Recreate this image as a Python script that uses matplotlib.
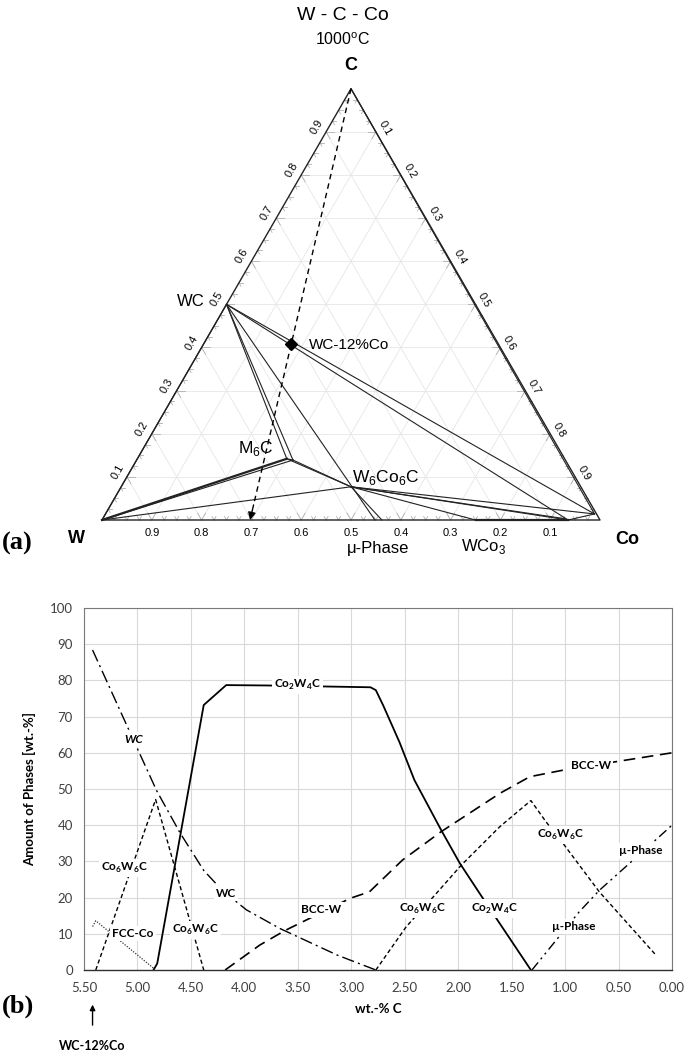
import numpy as np
import matplotlib
matplotlib.use('Agg')
import matplotlib.pyplot as plt

plt.rcParams['font.family'] = ['Lato', 'DejaVu Sans']
plt.rcParams['mathtext.fontset'] = 'custom'
plt.rcParams['mathtext.rm'] = 'Lato'
plt.rcParams['mathtext.bf'] = 'Lato:bold'
plt.rcParams['mathtext.sf'] = 'Liberation Sans'

# ── (a) ternary section, atomic fractions (C, Co); W = 1 - C - Co ──────────────
pt_names = ['W', 'Co', 'C', 'WC', 'M6C_a', 'M6C_b', 'W6Co6C', 'mu_a', 'mu_b',
            'WCo3', 'fcc_a', 'fcc_b', 'fcc_c', 'alloy']
pt_c  = [0.0, 0.0, 1.0, 0.5, 0.142, 0.139, 0.077, 0.0, 0.0,
         0.0, 0.0, 0.003, 0.014, 0.408]
pt_co = [0.0, 1.0, 0.0, 0.0, 0.300, 0.314, 0.4615, 0.548, 0.562,
         0.750, 0.936, 0.928, 0.982, 0.176]

tie_lines = [('W', 'WC'), ('WC', 'M6C_a'), ('WC', 'M6C_b'), ('M6C_a', 'M6C_b'),
             ('WC', 'mu_a'), ('W6Co6C', 'mu_b'), ('WC', 'fcc_a'), ('WC', 'fcc_c'),
             ('W', 'M6C_b'), ('W', 'W6Co6C'), ('M6C_a', 'W6Co6C'), ('M6C_b', 'W6Co6C'),
             ('W6Co6C', 'WCo3'), ('W6Co6C', 'fcc_a'), ('W6Co6C', 'fcc_b'),
             ('W6Co6C', 'fcc_c'), ('C', 'fcc_c'), ('fcc_a', 'fcc_c')]
thick_lines = [('W', 'M6C_a'), ('WCo3', 'fcc_a')]

tern_ticks = [0.1, 0.2, 0.3, 0.4, 0.5, 0.6, 0.7, 0.8, 0.9]

# ── (b) phase amounts vs wt.-% C ───────────────────────────────────────────────
co2w4c_x = [4.85, 4.815, 4.38, 4.17, 3.79, 2.82, 2.77, 2.70, 2.55, 2.41, 2.16, 1.985, 1.78, 1.32]
co2w4c_y = [0.0, 1.8, 73.2, 78.7, 78.6, 78.1, 77.3, 73.0, 63.0, 52.5, 38.7, 29.5, 20.3, 0.0]

wc_x = [5.42, 5.04, 4.82, 4.60, 4.38, 4.20, 3.98, 3.67, 3.13, 2.77]
wc_y = [88.4, 63.7, 49.5, 37.8, 27.5, 21.8, 16.6, 11.5, 4.1, 0.0]

bccw_x = [4.18, 3.855, 3.62, 3.01, 2.83, 2.52, 2.16, 1.61, 1.33, 1.02, 0.47, 0.0]
bccw_y = [0.0, 6.9, 10.9, 19.8, 21.6, 30.4, 38.2, 48.8, 53.4, 55.2, 57.8, 60.0]

co6w6c1_x = [5.39, 4.83, 4.38]
co6w6c1_y = [0.0, 47.1, 0.0]

co6w6c2_x = [2.77, 2.485, 2.23, 1.97, 1.61, 1.32, 1.18, 1.02, 0.68, 0.15]
co6w6c2_y = [0.0, 12.0, 20.3, 29.0, 39.6, 46.8, 41.0, 35.0, 21.6, 4.1]

fcc_x = [5.42, 5.39, 4.85]
fcc_y = [12.0, 13.6, 0.5]

mu_x = [1.31, 0.87, 0.68, 0.15, 0.0]
mu_y = [0.0, 16.0, 22.0, 36.0, 40.0]

label_text = ['Co$_\\mathbf{2}$W$_\\mathbf{4}$C', 'WC', 'BCC-W', 'Co$_\\mathbf{6}$W$_\\mathbf{6}$C',
              'FCC-Co', 'Co$_\\mathbf{6}$W$_\\mathbf{6}$C', 'WC', 'BCC-W', 'Co$_\\mathbf{6}$W$_\\mathbf{6}$C',
              'Co$_\\mathbf{2}$W$_\\mathbf{4}$C', 'Co$_\\mathbf{6}$W$_\\mathbf{6}$C', '\u00b5-Phase', '\u00b5-Phase']
label_style = ['normal', 'italic', 'normal', 'normal', 'normal', 'normal', 'normal',
               'normal', 'normal', 'normal', 'normal', 'normal', 'normal']
label_x = [3.50, 5.04, 0.757, 5.12, 5.04, 4.46, 4.17, 3.28, 2.33, 1.66, 1.04, 0.29, 0.92]
label_y = [78.7, 63.7, 56.4, 28.1, 10.1, 11.0, 21.2, 16.6, 17.0, 17.0, 37.3, 32.9, 12.1]

x_ticks = [5.5, 5.0, 4.5, 4.0, 3.5, 3.0, 2.5, 2.0, 1.5, 1.0, 0.5, 0.0]
y_ticks = [0, 10, 20, 30, 40, 50, 60, 70, 80, 90, 100]


def txy(c, co):
    return co + 0.5 * c, c * np.sqrt(3) / 2


def seg(ax, a, b, **kw):
    ax.plot([a[0], b[0]], [a[1], b[1]], **kw)


fig = plt.figure(figsize=(6.85, 10.51), dpi=100)

# ── panel (a) ─────────────────────────────────────────────────────────────────
ax_t = fig.add_axes([27.3 / 685, 1 - 569.8 / 1051, 647.4 / 685, 547.8 / 1051])
ax_t.set_xlim(-0.15, 1.15)
ax_t.set_ylim(-0.1, 1.0)
ax_t.axis('off')

P = {n: txy(c, co) for n, c, co in zip(pt_names, pt_c, pt_co)}

grid_kw = dict(color='#e6e6e6', lw=0.6, zorder=0)
for v in tern_ticks:
    seg(ax_t, txy(v, 0), txy(v, 1 - v), **grid_kw)
    seg(ax_t, txy(0, v), txy(1 - v, v), **grid_kw)
    seg(ax_t, txy(0, 1 - v), txy(1 - v, 0), **grid_kw)

# small v-shaped edge ticks
s3 = np.sqrt(3) / 2
for k in range(1, 40):
    v = k / 40
    L = 0.016 if k % 4 == 0 else 0.008
    tick_kw = dict(color='#b0b0b0', lw=0.6, zorder=1)
    for base, dirs in [(txy(0, v), [(0.5, s3), (-0.5, s3)]),
                       (txy(v, 0), [(1, 0), (0.5, -s3)]),
                       (txy(v, 1 - v), [(-1, 0), (-0.5, -s3)])]:
        for d in dirs:
            seg(ax_t, base, (base[0] + L * d[0], base[1] + L * d[1]), **tick_kw)

tri = [P['W'], P['Co'], P['C'], P['W']]
ax_t.plot([p[0] for p in tri], [p[1] for p in tri], color='#222222', lw=1.0, zorder=3)

for a, b in tie_lines:
    seg(ax_t, P[a], P[b], color='#222222', lw=0.8, zorder=3)
for a, b in thick_lines:
    seg(ax_t, P[a], P[b], color='#222222', lw=1.6, zorder=3)

# alloy section line from C corner through WC-12%Co down to the W-Co edge
ac, aco = pt_c[pt_names.index('alloy')], pt_co[pt_names.index('alloy')]
end = txy(0, aco / (1 - ac))
near = txy(0.035, aco / (1 - ac) * 0.965)
seg(ax_t, P['C'], near, color='black', lw=1.0, ls=(0, (4, 3)), zorder=4)
ax_t.annotate('', xy=end, xytext=near,
              arrowprops=dict(arrowstyle='-|>', color='black', lw=1.0,
                              mutation_scale=11, shrinkA=0, shrinkB=0), zorder=4)
ax_t.plot(*P['alloy'], marker='D', color='black', ms=6.5, zorder=5)

tfont = ['Liberation Sans', 'DejaVu Sans']
for v in tern_ticks:
    x, y = txy(v, 0)
    ax_t.text(x - 0.019, y + 0.010, f'{v:.1f}', rotation=60, ha='center', va='center',
              fontsize=8, family=tfont)
    x, y = txy(1 - v, v)
    ax_t.text(x + 0.018, y + 0.008, f'{v:.1f}', rotation=-60, ha='center', va='center',
              fontsize=8, family=tfont)
    x, y = txy(0, 1 - v)
    ax_t.text(x, y - 0.027, f'{v:.1f}', ha='center', va='center', fontsize=8, family=tfont)


def tlabel(name, text, dx, dy, ha='center', **kw):
    ax_t.annotate(text, xy=P[name], xytext=(dx, dy), textcoords='offset pixels',
                  ha=ha, va='center', family=tfont, **kw)


tlabel('C', 'C', 0, 23, fontsize=13, weight='bold')
tlabel('W', 'W', -26, -19, fontsize=13, weight='bold')
tlabel('Co', 'Co', 27, -20, fontsize=13, weight='bold')
tlabel('WC', 'WC', -22, 3, ha='right', fontsize=12)
tlabel('alloy', 'WC-12%Co', 18, -1, ha='left', fontsize=11)
tlabel('M6C_a', 'M$_\\mathsf{6}$C', -31, 10, fontsize=12.5)
tlabel('W6Co6C', 'W$_\\mathsf{6}$Co$_\\mathsf{6}$C', 1, 9, ha='left', fontsize=12.5)
tlabel('mu_a', '\u03bc-Phase', 3, -29, fontsize=12)
tlabel('WCo3', 'WCo$_\\mathsf{3}$', 8, -27, fontsize=12)

fig.text(343 / 685, 1 - 15 / 1051, 'W - C - Co', ha='center', va='center',
         fontsize=14, family=tfont)
fig.text(343 / 685, 1 - 40 / 1051, '1000$^\\mathsf{o}$C', ha='center', va='center',
         fontsize=11.5, family=tfont)
fig.text(2 / 685, 1 - 543 / 1051, '(a)', ha='left', va='center', fontsize=19,
         weight='bold', family='Liberation Serif')

# ── panel (b) ─────────────────────────────────────────────────────────────────
ax = fig.add_axes([84 / 685, 1 - 970 / 1051, 588 / 685, 362 / 1051])
ax.set_xlim(5.5, 0.0)
ax.set_ylim(0, 100)
ax.set_xticks(x_ticks)
ax.set_xticklabels([f'{v:.2f}' for v in x_ticks])
ax.set_yticks(y_ticks)
ax.grid(True, color='#d9d9d9', lw=0.8)
ax.set_axisbelow(True)
ax.tick_params(length=0, labelsize=9.5, labelcolor='#404040')
ax.tick_params(axis='x', pad=9)
ax.tick_params(axis='y', pad=8)
for side in ['top', 'right', 'left']:
    ax.spines[side].set_color('#7a7a7a')
    ax.spines[side].set_linewidth(0.8)
ax.spines['bottom'].set_color('#303030')
ax.spines['bottom'].set_linewidth(1.0)

ax.plot(co2w4c_x, co2w4c_y, color='black', lw=1.3)
ax.plot(wc_x, wc_y, color='black', lw=1.0, ls=(0, (9, 3, 1.5, 3)))
ax.plot(bccw_x, bccw_y, color='black', lw=1.2, ls=(0, (7, 4)))
ax.plot(co6w6c1_x, co6w6c1_y, color='black', lw=1.0, ls=(0, (3, 2)))
ax.plot(co6w6c2_x, co6w6c2_y, color='black', lw=1.0, ls=(0, (3, 2)))
ax.plot(fcc_x, fcc_y, color='#333333', lw=0.9, ls=(0, (1, 1.2)))
ax.plot(mu_x, mu_y, color='black', lw=1.0, ls=(0, (7, 3, 1.5, 3, 1.5, 3)))

for t, st, x, y in zip(label_text, label_style, label_x, label_y):
    ax.text(x, y, t, ha='center', va='center', fontsize=8.5, weight='bold', style=st,
            bbox=dict(fc='white', ec='none', pad=1.5), zorder=5)

ax.set_ylabel('Amount of Phases [wt.-%]', fontsize=9.5, weight='bold', labelpad=10)
ax.set_xlabel('wt.-% C', fontsize=9.5, weight='bold', labelpad=6)

xt = ax.get_xaxis_transform()
ax.annotate('', xy=(5.42, -0.088), xycoords=xt, xytext=(5.42, -0.16), textcoords=xt,
            arrowprops=dict(arrowstyle='-|>', color='black', lw=1.0, mutation_scale=8),
            annotation_clip=False)
ax.text(5.42, -0.21, 'WC-12%Co', transform=xt, ha='center', va='center',
        fontsize=9, weight='bold')
fig.text(2 / 685, 1 - 1006 / 1051, '(b)', ha='left', va='center', fontsize=19,
         weight='bold', family='Liberation Serif')

fig.savefig('out.png', dpi=100)
